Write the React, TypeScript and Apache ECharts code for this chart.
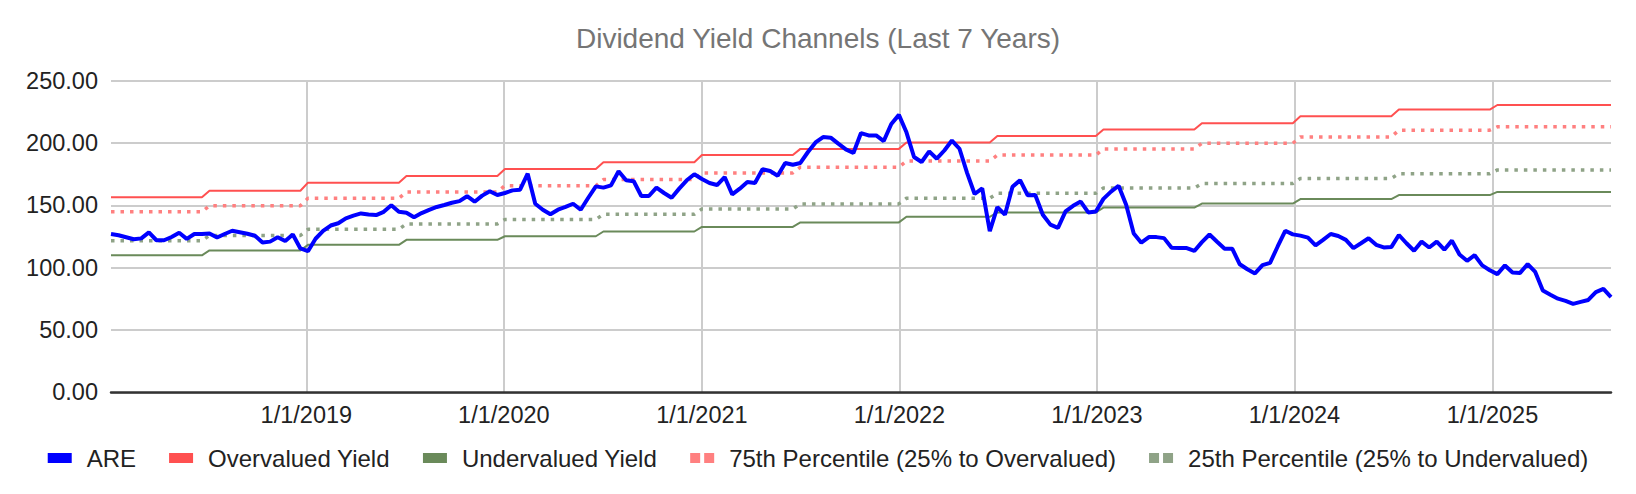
import React, { useEffect, useRef } from 'react';
import * as echarts from 'echarts';

const TITLE = 'Dividend Yield Channels (Last 7 Years)';
const NAME_ARE = 'ARE';
const NAME_OVER = 'Overvalued Yield';
const NAME_UNDER = 'Undervalued Yield';
const NAME_P75 = '75th Percentile (25% to Overvalued)';
const NAME_P25 = '25th Percentile (25% to Undervalued)';

// ARE yield-equivalent price, sampled every 14 days from 2018-01-05
const FIRST_DATE = [2018, 1, 5];
const STEP_DAYS = 14;
const areValues = [
  127.0, 126.0, 124.4, 122.8, 123.5, 128.3, 122.0, 122.0, 124.6, 128.0,
  123.1, 127.0, 127.0, 127.4, 124.2, 127.0, 129.6, 128.4, 127.2, 125.6,
  120.1, 120.9, 124.4, 121.4, 126.6, 115.4, 113.2, 123.2, 129.5, 133.8,
  135.6, 139.6, 141.7, 143.5, 142.7, 142.2, 144.8, 150.0, 144.8, 144.0,
  140.4, 143.8, 146.4, 148.7, 150.3, 152.1, 153.4, 157.3, 152.9, 157.8,
  161.3, 158.3, 159.9, 162.0, 162.6, 175.4, 151.3, 146.5, 142.8, 146.5,
  148.7, 151.3, 146.5, 156.1, 165.2, 164.2, 166.0, 177.3, 170.1, 169.3,
  157.5, 157.5, 164.2, 159.9, 156.1, 163.4, 170.1, 174.9, 171.1, 167.9,
  166.3, 172.7, 158.8, 163.4, 168.7, 167.9, 178.9, 177.5, 173.8, 184.0,
  182.6, 184.0, 192.8, 200.5, 204.8, 204.3, 199.5, 194.9, 192.0, 208.0,
  206.1, 206.1, 201.6, 215.3, 222.6, 208.6, 188.8, 184.8, 193.3, 187.4,
  194.0, 202.0, 195.4, 176.1, 159.1, 163.6, 129.2, 148.5, 142.5, 164.9,
  170.2, 158.1, 158.3, 142.5, 134.5, 131.9, 145.1, 149.6, 153.0, 144.3,
  145.1, 155.2, 161.0, 165.7, 150.4, 127.4, 120.0, 124.5, 124.5, 123.7,
  116.0, 115.7, 115.7, 113.4, 120.5, 126.6, 120.8, 115.2, 115.2, 102.7,
  98.7, 95.4, 102.0, 103.9, 117.0, 129.6, 126.7, 125.7, 124.1, 117.8,
  122.3, 127.0, 125.4, 122.3, 115.7, 119.6, 123.6, 118.3, 116.2, 116.5,
  126.2, 119.6, 113.6, 120.9, 116.2, 120.9, 114.4, 121.7, 110.5, 105.5,
  110.0, 101.8, 97.9, 94.8, 101.8, 96.1, 95.8, 102.9, 96.6, 81.7,
  78.3, 75.1, 73.3, 70.9, 72.5, 74.1, 80.4, 83.0, 76.4,
];

// half-year channel periods (first and last sample date of each)
const periodStart = [
  '2018-01-05', '2018-07-06', '2019-01-04', '2019-07-05', '2020-01-03',
  '2020-07-03', '2021-01-01', '2021-07-02', '2022-01-14', '2022-07-01',
  '2023-01-13', '2023-07-14', '2024-01-12', '2024-07-12', '2025-01-10',
];
const periodEnd = [
  '2018-06-22', '2018-12-21', '2019-06-21', '2019-12-20', '2020-06-19',
  '2020-12-18', '2021-06-18', '2021-12-31', '2022-06-17', '2022-12-30',
  '2023-06-30', '2023-12-29', '2024-06-28', '2024-12-27', '2025-08-08',
];
const overvaluedYield = [
  156.5, 161.7, 168.2, 173.6, 179.2, 184.6, 190.4, 195.3, 200.4, 205.6,
  210.8, 215.9, 221.5, 226.8, 230.5,
];
const undervaluedYield = [
  109.9, 113.8, 118.3, 122.3, 125.2, 129.0, 132.7, 136.3, 140.8, 144.3,
  148.2, 151.4, 155.0, 158.2, 160.8,
];
const pct75 = [
  144.8, 149.7, 155.7, 160.8, 165.7, 170.7, 176.0, 180.6, 185.5, 190.3,
  195.2, 199.8, 204.9, 210.3, 213.0,
];
const pct25 = [
  121.6, 125.8, 130.8, 135.1, 138.7, 142.9, 147.1, 151.1, 155.7, 159.6,
  163.9, 167.5, 171.6, 175.4, 178.4,
];

const Y_MIN = 0;
const Y_MAX = 250;
const Y_STEP = 50;

const FONT = '"Liberation Sans", Arial, Helvetica, sans-serif';
const DOT_ICON = 'path://M0,0H10V10H0Z M14,0H24V10H14Z';

function areDates(): number[] {
  const [y, m, d] = FIRST_DATE;
  return areValues.map((_, i) => new Date(y, m - 1, d + STEP_DAYS * i).getTime());
}

function stepData(levels: number[]): [string, number][] {
  const out: [string, number][] = [];
  levels.forEach((v, k) => {
    out.push([periodStart[k], v]);
    out.push([periodEnd[k], v]);
  });
  return out;
}

export default function App() {
  const ref = useRef<HTMLDivElement>(null);

  useEffect(() => {
    if (!ref.current) return;
    const chart = echarts.init(ref.current, undefined, { renderer: 'svg' });
    const dates = areDates();
    const DAY = 24 * 3600 * 1000;

    chart.setOption({
      animation: false,
      backgroundColor: '#ffffff',
      title: {
        text: TITLE,
        left: 'center',
        top: 19,
        textStyle: { fontFamily: FONT, fontSize: 28, fontWeight: 'normal', color: '#757575' },
      },
      legend: {
        left: 'center',
        top: 441,
        itemWidth: 24,
        itemHeight: 10,
        itemGap: 33,
        itemStyle: { borderWidth: 0 },
        lineStyle: { width: 0 },
        textStyle: { fontFamily: FONT, fontSize: 24, color: '#222222', padding: [0, 0, 0, 10] },
        data: [
          { name: NAME_ARE, icon: 'rect' },
          { name: NAME_OVER, icon: 'rect' },
          { name: NAME_UNDER, icon: 'rect' },
          { name: NAME_P75, icon: DOT_ICON },
          { name: NAME_P25, icon: DOT_ICON },
        ],
      },
      grid: { left: 111, right: 25, top: 80.7, bottom: 101.7, containLabel: false },
      xAxis: {
        type: 'time',
        min: dates[0],
        max: dates[dates.length - 1],
        minInterval: 365 * DAY,
        maxInterval: 366 * DAY,
        axisLine: { show: true, lineStyle: { color: '#333333', width: 2.5 } },
        axisTick: { show: false },
        splitLine: {
          show: true,
          showMinLine: false,
          showMaxLine: false,
          lineStyle: { color: '#cccccc', width: 2 },
        },
        axisLabel: {
          fontFamily: FONT,
          fontSize: 23.5,
          color: '#222222',
          margin: 11,
          formatter: (val: number) => {
            const d = new Date(val);
            return `${d.getMonth() + 1}/${d.getDate()}/${d.getFullYear()}`;
          },
        },
      },
      yAxis: {
        type: 'value',
        min: Y_MIN,
        max: Y_MAX,
        interval: Y_STEP,
        axisLine: { show: false },
        axisTick: { show: false },
        splitLine: { show: true, lineStyle: { color: '#cccccc', width: 2 } },
        axisLabel: {
          fontFamily: FONT,
          fontSize: 23.5,
          color: '#222222',
          margin: 13,
          formatter: (v: number) => v.toFixed(2),
        },
      },
      series: [
        {
          name: NAME_ARE,
          type: 'line',
          data: areValues.map((v, i) => [dates[i], v]),
          showSymbol: false,
          symbol: 'none',
          color: '#0000ff',
          lineStyle: { color: '#0000ff', width: 4 },
          z: 5,
        },
        {
          name: NAME_OVER,
          type: 'line',
          data: stepData(overvaluedYield),
          showSymbol: false,
          symbol: 'none',
          color: '#ff5050',
          lineStyle: { color: '#ff5050', width: 2 },
          z: 3,
        },
        {
          name: NAME_UNDER,
          type: 'line',
          data: stepData(undervaluedYield),
          showSymbol: false,
          symbol: 'none',
          color: '#6a8a5a',
          lineStyle: { color: '#6a8a5a', width: 2 },
          z: 3,
        },
        {
          name: NAME_P75,
          type: 'line',
          data: stepData(pct75),
          showSymbol: false,
          symbol: 'none',
          color: '#ff8080',
          lineStyle: { color: '#ff8080', width: 3.5, type: [3.5, 6], cap: 'butt' },
          z: 2,
        },
        {
          name: NAME_P25,
          type: 'line',
          data: stepData(pct25),
          showSymbol: false,
          symbol: 'none',
          color: '#8fa387',
          lineStyle: { color: '#8fa387', width: 3.5, type: [3.5, 6], cap: 'butt' },
          z: 2,
        },
      ],
    });

    return () => chart.dispose();
  }, []);

  return (
    <div
      ref={ref}
      style={{ position: 'fixed', left: 0, top: 0, width: 1636, height: 494, background: '#fff' }}
    />
  );
}
